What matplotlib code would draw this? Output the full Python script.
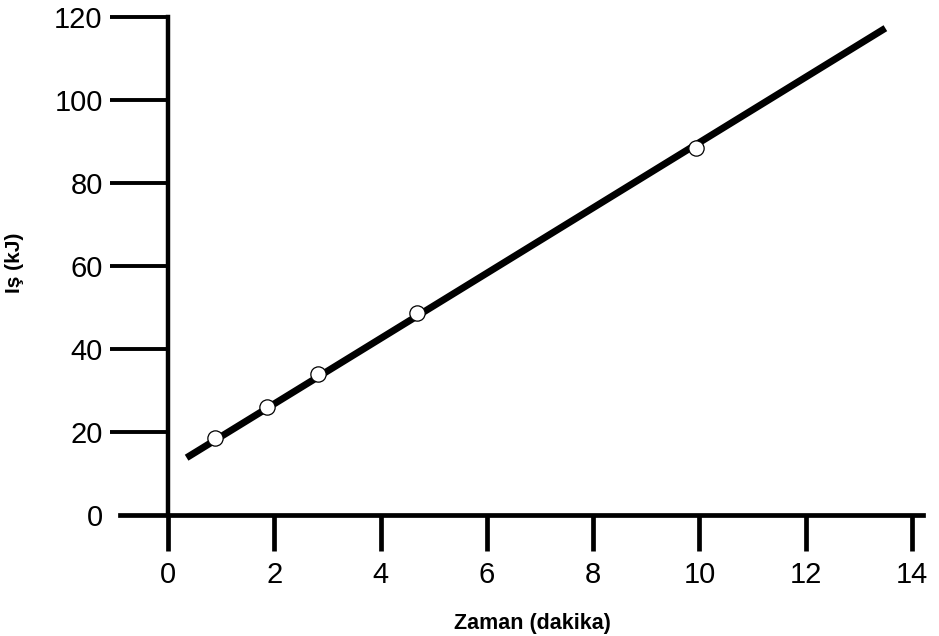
import matplotlib
matplotlib.use("Agg")
import matplotlib.pyplot as plt

# measured points (time in minutes, work in kJ)
zaman = [0.88, 1.86, 2.82, 4.68, 9.94]
is_kj = [18.5, 25.9, 34.0, 48.6, 88.4]

# drawn straight line
line_x = [0.35, 13.5]
line_y = [13.8, 117.3]

xticks = [0, 2, 4, 6, 8, 10, 12, 14]
yticks = [0, 20, 40, 60, 80, 100, 120]

plt.rcParams['font.family'] = ['Liberation Sans', 'DejaVu Sans']

fig = plt.figure(figsize=(9.39, 6.36), dpi=100)
ax = fig.add_axes([0.128, 0.1903, 0.8545, 0.783])

ax.plot(line_x, line_y, color='black', lw=5, solid_capstyle='butt', clip_on=False, zorder=3)
ax.plot(zaman, is_kj, 'o', ms=11, mfc='white', mec='black', mew=0.9, clip_on=False, zorder=4)

ax.set_xlim(-0.9, 14.2)
ax.set_ylim(0, 120)

for s in ['top', 'right']:
    ax.spines[s].set_visible(False)
ax.spines['left'].set_position(('data', 0))
ax.spines['left'].set_bounds(0, 120)
ax.spines['left'].set_linewidth(3.2)
ax.spines['bottom'].set_linewidth(3.4)

ax.set_xticks(xticks)
ax.set_yticks(yticks)
ax.set_xticklabels([str(v) for v in xticks])
ax.set_yticklabels([str(v) for v in yticks])
ax.tick_params(axis='x', direction='out', length=26, width=3.4, pad=7, labelsize=21)
ax.tick_params(axis='y', direction='out', length=42, width=2.8, pad=5, labelsize=21)
ax.yaxis.get_major_ticks()[0].tick1line.set_visible(False)

fig.text(532 / 939, 1 - 623 / 636, 'Zaman (dakika)', ha='center', va='center',
         fontsize=15.5, fontweight='bold')
fig.text(14 / 939, 1 - 263 / 636, 'Iş (kJ)', ha='center', va='center',
         rotation=90, fontsize=15, fontweight='bold')

fig.savefig('out.png', dpi=100)
